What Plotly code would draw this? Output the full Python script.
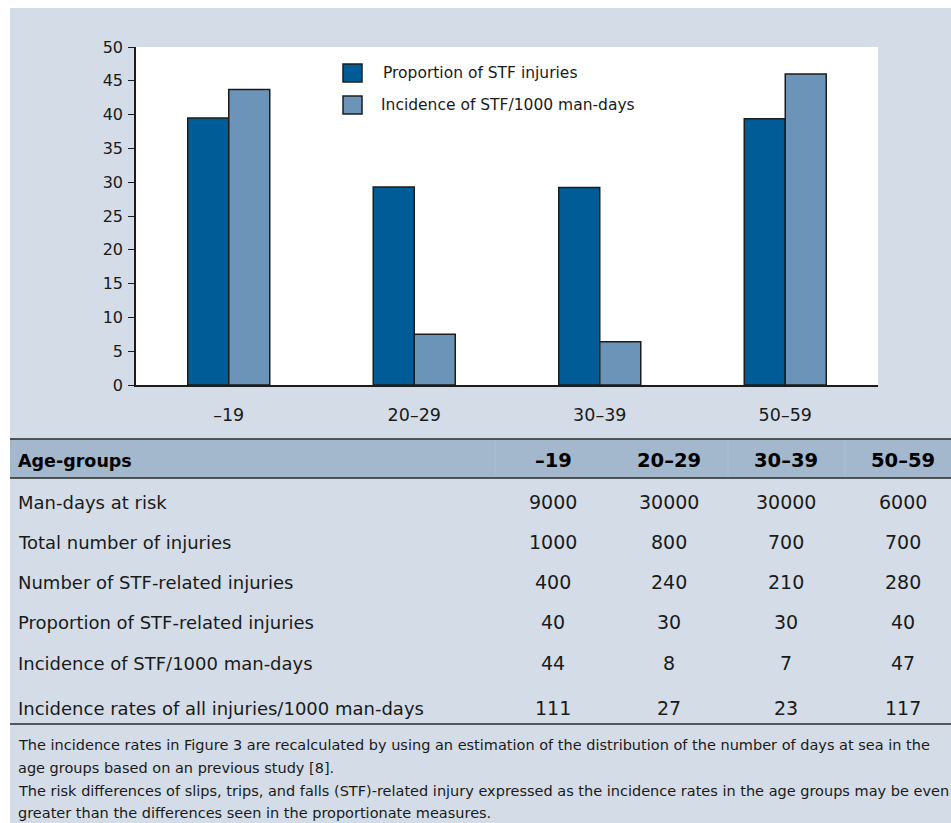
import plotly.graph_objects as go

# ---------------- data ----------------
age_groups = ["–19", "20–29", "30–39", "50–59"]
series_names = ["Proportion of STF injuries", "Incidence of STF/1000 man-days"]
proportion_stf = [39.5, 29.3, 29.2, 39.4]
incidence_stf = [43.7, 7.5, 6.4, 46.0]
y_ticks = [0, 5, 10, 15, 20, 25, 30, 35, 40, 45, 50]

table_header = "Age-groups"
row_labels = [
    "Man-days at risk",
    "Total number of injuries",
    "Number of STF-related injuries",
    "Proportion of STF-related injuries",
    "Incidence of STF/1000 man-days",
    "Incidence rates of all injuries/1000 man-days",
]
row_values = [
    ["9000", "30000", "30000", "6000"],
    ["1000", "800", "700", "700"],
    ["400", "240", "210", "280"],
    ["40", "30", "30", "40"],
    ["44", "8", "7", "47"],
    ["111", "27", "23", "117"],
]
footnotes = [
    "The incidence rates in Figure 3 are recalculated by using an estimation of the distribution of the number of days at sea in the",
    "age groups based on an previous study [8].",
    "The risk differences of slips, trips, and falls (STF)-related injury expressed as the incidence rates in the age groups may be even",
    "greater than the differences seen in the proportionate measures.",
]

# ---------------- style ----------------
W, H = 951, 823
BG = "#d4dde7"
HEADER_BG = "#a3b8cd"
DARK = "#005c97"
LIGHT = "#6c94b9"
EDGE = "#1c1c1c"
TXT = "#1a1a1a"
FONT = "DejaVu Sans, Verdana, sans-serif"


def px(x):
    return x / W


def py(y):
    return 1 - y / H


fig = go.Figure()
colors = [DARK, LIGHT]
for name, vals, col in zip(series_names, [proportion_stf, incidence_stf], colors):
    fig.add_trace(go.Bar(
        x=age_groups, y=vals, name=name,
        marker=dict(color=col, line=dict(color=EDGE, width=1.5)),
        showlegend=False, hoverinfo="skip",
    ))

shapes = []
annotations = []

# white outer strips (top and left)
shapes.append(dict(type="rect", xref="paper", yref="paper", x0=0, x1=1,
                   y0=py(8), y1=1, fillcolor="white", line=dict(width=0), layer="below"))
shapes.append(dict(type="rect", xref="paper", yref="paper", x0=0, x1=px(10),
                   y0=0, y1=1, fillcolor="white", line=dict(width=0), layer="below"))

# manual legend
leg_y = [73, 105]
for name, col, yc, tx in zip(series_names, colors, leg_y, [381, 379]):
    shapes.append(dict(type="rect", xref="paper", yref="paper",
                       x0=px(343), x1=px(362), y0=py(yc + 9), y1=py(yc - 9),
                       fillcolor=col, line=dict(color=EDGE, width=1.5)))
    annotations.append(dict(xref="paper", yref="paper", x=px(tx), y=py(yc),
                            text=name, showarrow=False, xanchor="left", yanchor="middle",
                            font=dict(size=15.5, color=TXT, family=FONT)))

# table header band, faint dividers and rules
shapes.append(dict(type="rect", xref="paper", yref="paper", x0=px(10), x1=1,
                   y0=py(478), y1=py(439), fillcolor=HEADER_BG, line=dict(width=0)))
for xd in [495, 728, 845]:
    shapes.append(dict(type="line", xref="paper", yref="paper", x0=px(xd), x1=px(xd),
                       y0=py(478), y1=py(439), line=dict(color="#aebfd2", width=1)))
for yl in [439, 478, 724]:
    shapes.append(dict(type="line", xref="paper", yref="paper", x0=px(10), x1=1,
                       y0=py(yl), y1=py(yl), line=dict(color="#2a2a2a", width=1.5)))

col_x = [553, 669, 786, 903]
annotations.append(dict(xref="paper", yref="paper", x=px(16), y=py(461),
                        text="<b>" + table_header + "</b>", showarrow=False,
                        xanchor="left", yanchor="middle",
                        font=dict(size=17.5, color="black", family=FONT)))
for cx, g in zip(col_x, age_groups):
    annotations.append(dict(xref="paper", yref="paper", x=px(cx), y=py(461),
                            text="<b>" + g + "</b>", showarrow=False,
                            xanchor="center", yanchor="middle",
                            font=dict(size=19.5, color="black", family=FONT)))

row_y = [502, 542, 582, 622, 663, 708]
for ry, lab, vals in zip(row_y, row_labels, row_values):
    annotations.append(dict(xref="paper", yref="paper", x=px(16), y=py(ry),
                            text=lab, showarrow=False, xanchor="left", yanchor="middle",
                            font=dict(size=18, color=TXT, family=FONT)))
    for cx, v in zip(col_x, vals):
        annotations.append(dict(xref="paper", yref="paper", x=px(cx), y=py(ry),
                                text=v, showarrow=False, xanchor="center", yanchor="middle",
                                font=dict(size=19, color=TXT, family=FONT)))

foot_y = [745, 768, 791, 813]
for fy, t in zip(foot_y, footnotes):
    annotations.append(dict(xref="paper", yref="paper", x=px(16), y=py(fy),
                            text=t, showarrow=False, xanchor="left", yanchor="middle",
                            font=dict(size=14.5, color=TXT, family=FONT)))

fig.update_layout(
    width=W, height=H,
    margin=dict(l=0, r=0, t=0, b=0),
    paper_bgcolor=BG, plot_bgcolor="white",
    barmode="group", bargap=0.558, bargroupgap=0,
    shapes=shapes, annotations=annotations,
    font=dict(family=FONT, color=TXT),
    xaxis=dict(domain=[px(136), px(878)], type="category",
               showline=True, linecolor=EDGE, linewidth=1.5, automargin=False,
               ticks="", showgrid=False, ticklabelstandoff=13,
               tickfont=dict(size=17.5, color=TXT, family=FONT)),
    yaxis=dict(domain=[py(385), py(47)], range=[0, 50], tickvals=y_ticks,
               showline=True, linecolor=EDGE, linewidth=1.5, automargin=False,
               ticks="outside", ticklen=6, tickcolor=EDGE, tickwidth=1.2,
               ticklabelstandoff=2,
               showgrid=False, zeroline=False,
               tickfont=dict(size=16, color=TXT, family=FONT)),
)

fig.write_html("out.html", config={"displayModeBar": False},
               post_script="document.body.style.margin='0px';")
